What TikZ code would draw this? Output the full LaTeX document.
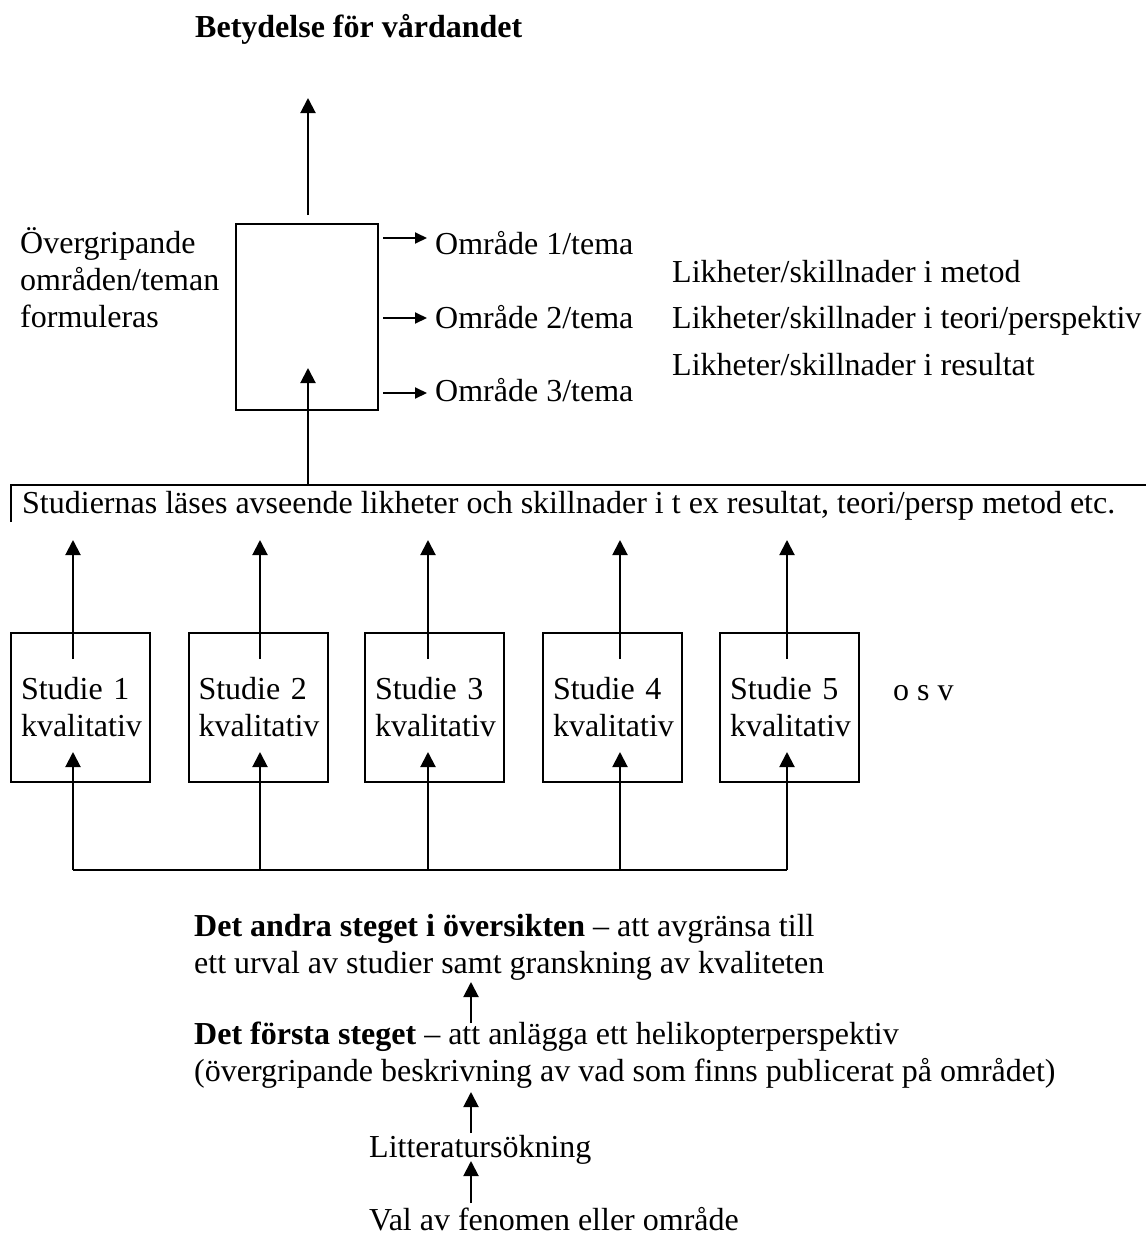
\documentclass[tikz,border=0pt]{standalone}
\usepackage{fontspec}
\setmainfont{Liberation Serif}
\usetikzlibrary{arrows.meta}
\begin{document}
\begin{tikzpicture}[x=1pt,y=-1pt,
  txt/.style={anchor=base west,inner sep=0pt,font=\fontsize{32}{37}\selectfont,align=left},
  mainbox/.style={draw,line width=2pt,inner sep=0pt,minimum width=142pt,minimum height=186pt},
  studybox/.style={draw,line width=2pt,inner xsep=9pt,inner ysep=0pt,minimum width=139pt,minimum height=149pt,text width=119pt,align=left,font=\fontsize{32}{37}\selectfont},
  arr/.style={line width=2pt,-{Triangle[length=15pt,width=15pt]}},
  sarr/.style={line width=2pt,-{Triangle[length=12pt,width=11pt]}},
  ln/.style={line width=2pt}]
\useasboundingbox (0,0) rectangle (1146,1234);

% title
\node[txt,font=\fontsize{32}{37}\selectfont\bfseries] (title) at (195,37) {Betydelse för vårdandet};

% main box
\node[mainbox] (mb) at (307,317) {};
\coordinate (ta) at (308,215);
\coordinate (tt) at (308,98);
\draw[arr] (ta) -- (tt);

\node[txt] (og) at (20,327) {Övergripande\\områden/teman\\formuleras};

\node[txt] (o1) at (435,254) {Område 1/tema};
\node[txt] (o2) at (435,328) {Område 2/tema};
\node[txt] (o3) at (435,401) {Område 3/tema};
\coordinate (r1) at (383,238);
\coordinate (r2) at (383,318);
\coordinate (r3) at (383,393);
\draw[sarr] (r1) -- ([xshift=-8pt]r1 -| o1.west);
\draw[sarr] (r2) -- ([xshift=-8pt]r2 -| o2.west);
\draw[sarr] (r3) -- ([xshift=-8pt]r3 -| o3.west);

\node[txt] (l1) at (672,282) {Likheter/skillnader i metod};
\node[txt] (l2) at (672,328) {Likheter/skillnader i teori/perspektiv};
\node[txt] (l3) at (672,375) {Likheter/skillnader i resultat};

% reading line
\node[txt] (read) at (22,513) {Studiernas läses avseende likheter och skillnader i t ex resultat, teori/persp metod etc.};
\coordinate (fa) at (11,522);
\coordinate (fb) at (11,485);
\coordinate (fc) at (1146,485);
\draw[ln] (fa) -- (fb) -- (fc);
\coordinate (ia) at (308,485);
\coordinate (it) at (308,368);
\draw[arr] (ia) -- (it);

% studies
\node[studybox] (s1) at (80.5,707.5) {Studie 1\\kvalitativ};
\node[studybox] (s2) at (258,707.5) {Studie 2\\kvalitativ};
\node[studybox] (s3) at (434.5,707.5) {Studie 3\\kvalitativ};
\node[studybox] (s4) at (612.5,707.5) {Studie 4\\kvalitativ};
\node[studybox] (s5) at (789.5,707.5) {Studie 5\\kvalitativ};
\node[txt] (osv) at (893,700) {o s v};

\foreach \i/\x in {1/73,2/260,3/428,4/620,5/787}{
  \coordinate (u\i) at (\x,659);
  \coordinate (v\i) at (\x,540);
  \draw[arr] (u\i) -- (v\i);
  \coordinate (b\i) at (\x,870);
  \coordinate (c\i) at (\x,752);
  \draw[arr] (b\i) -- (c\i);
}
\draw[ln] (b1) -- (b5);

% bottom steps
\node[txt] (st2) at (194,973) {\textbf{Det andra steget i översikten} – att avgränsa till\\ett urval av studier samt granskning av kvaliteten};
\node[txt] (st1) at (194,1081) {\textbf{Det första steget} – att anlägga ett helikopterperspektiv\\(övergripande beskrivning av vad som finns publicerat på området)};
\node[txt] (lit) at (369,1157) {Litteratursökning};
\node[txt] (val) at (369,1230) {Val av fenomen eller område};

\coordinate (p1) at (471,1023);
\coordinate (q1) at (471,982);
\draw[arr] (p1) -- (q1);
\coordinate (p2) at (471,1133);
\coordinate (q2) at (471,1092);
\draw[arr] (p2) -- (q2);
\coordinate (p3) at (471,1203);
\coordinate (q3) at (471,1161);
\draw[arr] (p3) -- (q3);
\end{tikzpicture}
\end{document}
